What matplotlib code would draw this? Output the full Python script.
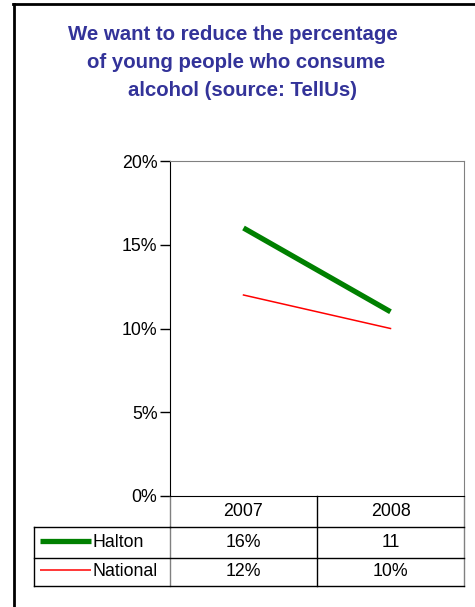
import numpy as np
import matplotlib.pyplot as plt
from matplotlib.lines import Line2D
import matplotlib.transforms as mtransforms

years = ['2007', '2008']
halton = [16, 11]
national = [12, 10]
halton_labels = ['16%', '11']
national_labels = ['12%', '10%']
yticks = [0, 5, 10, 15, 20]
title_lines = ['We want to reduce the percentage',
               'of young people who consume',
               'alcohol (source: TellUs)']

plt.rcParams['font.family'] = ['Liberation Sans', 'DejaVu Sans']
FS = 12.8

fig = plt.figure(figsize=(4.75, 6.07), dpi=100)
W, H = 475, 607
ax = fig.add_axes([170 / W, 1 - 496 / H, 294 / W, 335 / H])

x = np.arange(len(years)) + 0.5
ax.plot(x, halton, color='#008000', lw=3.8, solid_capstyle='butt')
ax.plot(x, national, color='#ff0000', lw=1.1)

ax.set_xlim(0, len(years))
ax.set_ylim(0, 20)
ax.set_yticks(yticks)
ax.set_yticklabels([f'{v}%' for v in yticks], fontsize=FS)
ax.set_xticks([])
ax.tick_params(axis='y', direction='out', length=7, width=1, pad=2)
for s in ['top', 'right']:
    ax.spines[s].set_color('#808080')
for s in ['left', 'bottom']:
    ax.spines[s].set_color('black')

# data table under the plot
tr = mtransforms.blended_transform_factory(ax.transData, ax.transAxes)
ta = ax.transAxes
px = 1 / 335.0
xl = (34 - 170) / 294.0
r0, r1, r2, r3 = 0, -31 * px, -62 * px, -90 * px

def seg(x0, x1, y0, y1, c='black'):
    ax.add_line(Line2D([x0, x1], [y0, y1], transform=ta, color=c, lw=1, clip_on=False))

seg(0, 0, r0, r3, '#808080')
seg(0.5, 0.5, r0, r3)
seg(1, 1, r0, r3, '#808080')
seg(xl, xl, r1, r3)
seg(0, 1, r1, r1)
seg(xl, 0, r1, r1)
seg(xl, 1, r2, r2)
seg(xl, 1, r3, r3)

rows = [(years, None, None, None),
        (halton_labels, 'Halton', '#008000', 3.8),
        (national_labels, 'National', '#ff0000', 1.1)]
bounds = [r0, r1, r2, r3]
for i, (vals, name, col, lw) in enumerate(rows):
    yc = (bounds[i] + bounds[i + 1]) / 2
    for xi, v in zip(x, vals):
        ax.text(xi, yc, v, transform=tr, ha='center', va='center', fontsize=FS)
    if name:
        lx0 = (40 - 170) / 294.0
        lx1 = (91 - 170) / 294.0
        ax.add_line(Line2D([lx0, lx1], [yc + 2 * px, yc + 2 * px], transform=ta,
                           color=col, lw=lw, clip_on=False, solid_capstyle='butt'))
        ax.text((93 - 170) / 294.0, yc, name, transform=ta, ha='left', va='center', fontsize=FS)

# title, each line placed as in the slide
for line, cx, by in zip(title_lines, [233, 236, 242], [40, 68, 96]):
    fig.text(cx / W, 1 - by / H, line, ha='center', va='baseline',
             fontsize=14.7, fontweight='bold', color='#333399')

# border of the slide box
fig.add_artist(Line2D([13 / W, 1], [1 - 3.5 / H, 1 - 3.5 / H], transform=fig.transFigure, color='black', lw=2))
fig.add_artist(Line2D([13.5 / W, 13.5 / W], [0, 1 - 3.5 / H], transform=fig.transFigure, color='black', lw=2))

fig.savefig('out.png', dpi=100)
